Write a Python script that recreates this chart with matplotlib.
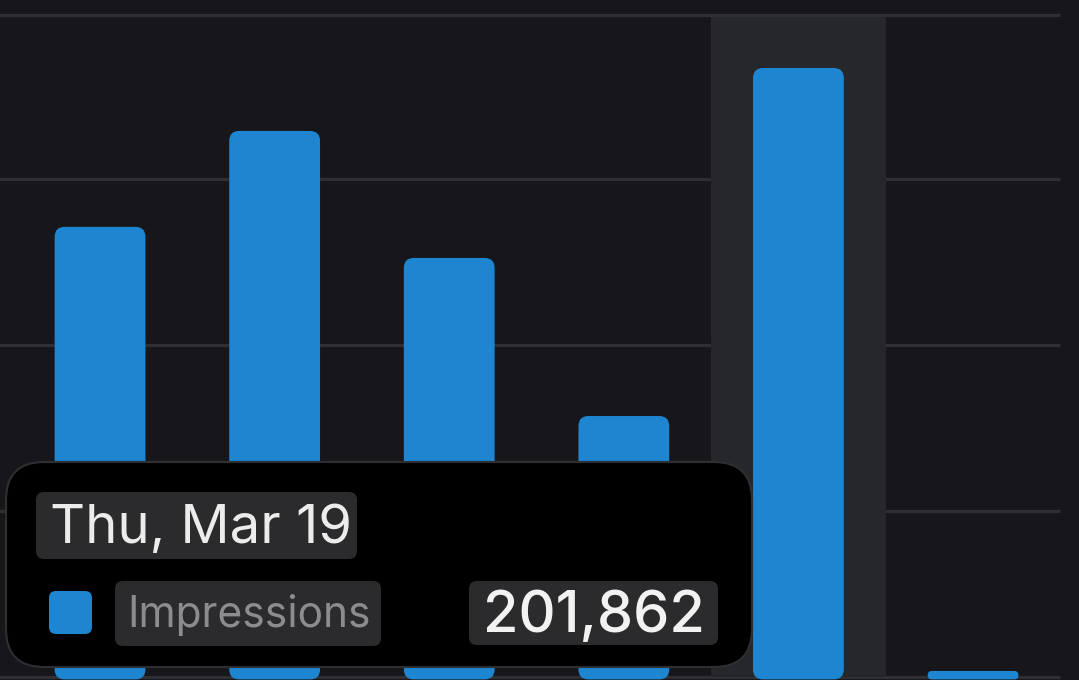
import numpy as np
import matplotlib.pyplot as plt
from matplotlib.patches import FancyBboxPatch

# daily impressions, the highlighted day is shown in the tooltip
days = ["Sun, Mar 15", "Mon, Mar 16", "Tue, Mar 17", "Wed, Mar 18", "Thu, Mar 19", "Fri, Mar 20"]
impressions = [149200, 181000, 138900, 86500, 201862, 2000]
grid_ticks = [0, 55000, 110000, 165000, 219500]
highlight = 4
series_name = "Impressions"

BG = "#17171b"
COLUMN = "#26272b"
GRID = "#2e2f33"
BLUE = "#1e85d0"


def rounded(ax, x0, y0, w, h, r_px, **kw):
    # rounded rectangle in data coords with a corner radius given in pixels
    inv = ax.transData.inverted()
    (ax0, ay0), (ax1, ay1) = inv.transform([(0, 0), (1, 1)])
    ux, uy = abs(ax1 - ax0), abs(ay1 - ay0)
    h_px = h / uy
    r_px = min(r_px, h_px / 2, (w / ux) / 2)
    p = FancyBboxPatch((x0, y0), w, h,
                       boxstyle="round,pad=0,rounding_size=%f" % (r_px * ux),
                       mutation_aspect=uy / ux, **kw)
    ax.add_patch(p)
    return p


fig = plt.figure(figsize=(10.79, 6.8), dpi=100)
fig.patch.set_facecolor(BG)
ax = fig.add_axes([0, 0, 1, 1])
ax.set_facecolor(BG)
ax.set_xlim(-0.573, 5.607)
ax.set_ylim(-1000, 224400)
ax.axis("off")

x = np.arange(len(days))

# highlighted column behind the hovered bar
ax.bar(x[highlight], grid_ticks[-1], width=1.0, color=COLUMN, zorder=1)

for t in grid_ticks:
    ax.hlines(t, -0.7, 5.5, color=GRID, lw=2.3, zorder=2 if t == grid_ticks[-1] else 0.5)

bars = ax.bar(x, impressions, width=0.52, color=BLUE, zorder=3)
for b in bars:
    b.set_visible(False)
    rounded(ax, b.get_x(), b.get_y() - 800, b.get_width(), b.get_height() + 800, 10,
            fc=BLUE, ec="none", zorder=3)

# tooltip overlay in pixel coordinates
tt = fig.add_axes([0, 0, 1, 1])
tt.set_xlim(0, 1079)
tt.set_ylim(680, 0)
tt.axis("off")
tt.patch.set_alpha(0)

tt.add_patch(FancyBboxPatch((6, 462), 746, 205, boxstyle="round,pad=0,rounding_size=38",
                            fc="#000000", ec="#2e2f33", lw=1.5, zorder=5))
tt.add_patch(FancyBboxPatch((36, 492), 321, 67, boxstyle="round,pad=0,rounding_size=8",
                            fc="#2b2b2d", ec="none", zorder=6))
tt.text(50, 543, days[highlight], fontsize=39.2, color="#ececec", family="Inter",
        va="baseline", zorder=7)

tt.add_patch(FancyBboxPatch((49, 591), 43, 43, boxstyle="round,pad=0,rounding_size=7",
                            fc=BLUE, ec="none", zorder=6))
tt.add_patch(FancyBboxPatch((115, 581), 266, 65, boxstyle="round,pad=0,rounding_size=8",
                            fc="#2b2b2d", ec="none", zorder=6))
tt.text(127, 627, series_name, fontsize=30.6, color="#8c8c90", family="Inter",
        va="baseline", zorder=7)

tt.add_patch(FancyBboxPatch((469, 581), 249, 64, boxstyle="round,pad=0,rounding_size=8",
                            fc="#2b2b2d", ec="none", zorder=6))
tt.text(705, 632, f"{impressions[highlight]:,}", fontsize=41.5, color="#f2f2f2",
        family="Inter", fontweight="medium", va="baseline", ha="right", zorder=7)

fig.savefig("out.png", dpi=100, facecolor=BG)
